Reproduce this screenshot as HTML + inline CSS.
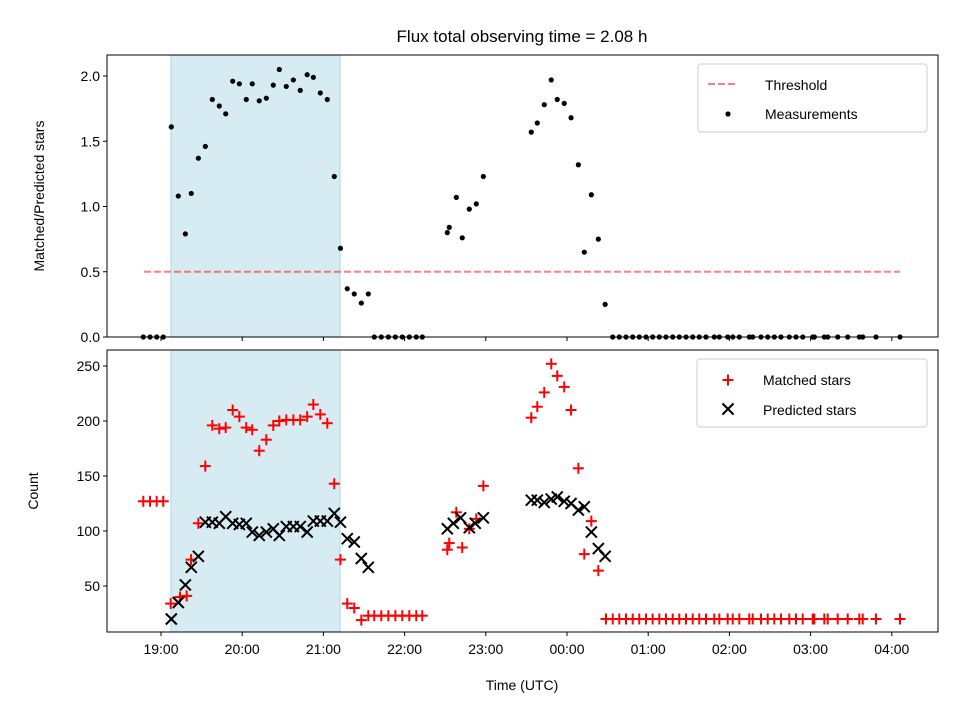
<!DOCTYPE html>
<html><head><meta charset="utf-8"><style>
body{margin:0;background:#fff}
svg text{font-family:"Liberation Sans","DejaVu Sans",sans-serif;fill:#000}
</style></head><body>
<svg id="c" width="960" height="720" xmlns="http://www.w3.org/2000/svg"></svg>
<script>
// hours after 19:00 UTC
const xTickLabels=["19:00","20:00","21:00","22:00","23:00","00:00","01:00","02:00","03:00","04:00"];
const xTickHours=[0,1,2,3,4,5,6,7,8,9];
const topTicks=[0,0.5,1.0,1.5,2.0];
const botTicks=[50,100,150,200,250];
const shadeRange=[0.123,2.205];
const threshold=0.5;
const thresholdRange=[-0.21,9.1];
const fluxT=[-0.218,-0.135,-0.053,0.028,0.127,0.213,0.30,0.373,0.46,0.546,0.632,0.718,0.797,0.883,0.965,1.05,1.124,1.21,1.297,1.383,1.457,1.543,1.63,1.715,1.80,1.876,1.962,2.048,2.134,2.21,2.294,2.38,2.467,2.553,2.627,2.713,2.8,2.886,2.972,3.058,3.144,3.218,3.526,3.55,3.637,3.71,3.797,3.883,3.97,4.56,4.634,4.72,4.806,4.88,4.966,5.05,5.14,5.213,5.30,5.386,5.47,5.563,5.644,5.727,5.809,5.89,5.973,6.055,6.137,6.219,6.302,6.383,6.466,6.548,6.629,6.712,6.814,6.876,6.979,7.041,7.122,7.245,7.287,7.389,7.472,7.553,7.635,7.738,7.82,7.903,8.026,8.046,8.169,8.211,8.334,8.457,8.6,8.642,8.806,9.101];
const fluxV=[0,0,0,0,1.61,1.08,0.79,1.10,1.37,1.46,1.82,1.77,1.71,1.96,1.94,1.82,1.94,1.81,1.83,1.93,2.05,1.92,1.97,1.89,2.01,1.99,1.87,1.82,1.23,0.68,0.37,0.33,0.26,0.33,0,0,0,0,0,0,0,0,0.80,0.84,1.07,0.76,0.98,1.02,1.23,1.57,1.64,1.78,1.97,1.82,1.79,1.68,1.32,0.65,1.09,0.75,0.25,0,0,0,0,0,0,0,0,0,0,0,0,0,0,0,0,0,0,0,0,0,0,0,0,0,0,0,0,0,0,0,0,0,0,0,0,0,0,0];
const matchedT=[-0.218,-0.135,-0.053,0.028,0.119,0.234,0.316,0.37,0.46,0.546,0.632,0.718,0.797,0.883,0.965,1.05,1.124,1.21,1.297,1.383,1.457,1.543,1.63,1.715,1.80,1.876,1.962,2.048,2.134,2.21,2.294,2.38,2.467,2.553,2.627,2.713,2.8,2.886,2.972,3.058,3.144,3.218,3.526,3.55,3.637,3.71,3.797,3.883,3.97,4.56,4.634,4.72,4.806,4.88,4.966,5.05,5.14,5.213,5.30,5.386,5.48,5.563,5.644,5.727,5.809,5.89,5.973,6.055,6.137,6.219,6.302,6.383,6.466,6.548,6.629,6.712,6.814,6.876,6.979,7.041,7.122,7.245,7.287,7.389,7.472,7.553,7.635,7.738,7.82,7.903,8.026,8.046,8.169,8.211,8.334,8.457,8.6,8.642,8.806,9.101];
const matchedV=[127,127,127,127,34,40,41,74,107,159,196,193,194,210,204,194,192,173,183,196,200,201,201,201,204,215,206,198,143,74,34,30,19,23,23,23,23,23,23,23,23,23,83,89,117,85,102,111,141,203,213,226,252,241,231,210,157,79,109,64,20,20,20,20,20,20,20,20,20,20,20,20,20,20,20,20,20,20,20,20,20,20,20,20,20,20,20,20,20,20,20,20,20,20,20,20,20,20,20,20];
const predT=[0.127,0.213,0.30,0.373,0.46,0.546,0.632,0.718,0.797,0.883,0.965,1.05,1.124,1.21,1.297,1.383,1.457,1.543,1.63,1.715,1.80,1.876,1.962,2.048,2.134,2.21,2.294,2.38,2.467,2.553,3.526,3.60,3.69,3.797,3.87,3.97,4.56,4.634,4.72,4.806,4.88,4.966,5.05,5.14,5.213,5.30,5.386,5.47];
const predV=[20,35,51,67,77,108,108,107,113,107,106,107,99,96,99,102,96,104,104,104,99,109,109,109,116,108,93,90,75,67,102,107,112,103,107,112,128,128,126,129,131,127,125,119,122,99,84,77];

const NS="http://www.w3.org/2000/svg";
const svg=document.getElementById('c');
function mk(tag,attrs,parent){const e=document.createElementNS(NS,tag);for(const k in attrs)e.setAttribute(k,attrs[k]);(parent||svg).appendChild(e);return e;}
const L=107,R=938;
const xs=t=>161+t*81.2;
const yTop=v=>337-v*130.5;
const yBot=v=>641-v*1.1;
const T1=55,B1=337,T2=350,B2=632;

const title=mk('text',{x:522,y:42,'text-anchor':'middle','font-size':17});
title.textContent='Flux total observing time = 2.08 h';



function panel(top,bot,name){
  const g=mk('g',{});
  
  
  const sh=mk('rect',{x:xs(shadeRange[0]),y:top,width:xs(shadeRange[1])-xs(shadeRange[0]),height:bot-top,fill:'#add8e6','fill-opacity':0.5,stroke:'#add8e6','stroke-width':1},g);
  
  
  return g;
}
function frame(g,top,bot){
  mk('rect',{x:L,y:top,width:R-L,height:bot-top,fill:'none',stroke:'#000','stroke-width':1},g);
}
// Top panel
const g1=panel(T1,B1,'top-panel');
const th=mk('line',{x1:xs(thresholdRange[0]),x2:xs(thresholdRange[1]),y1:yTop(threshold),y2:yTop(threshold),stroke:'#ff0000','stroke-opacity':0.5,'stroke-width':2,'stroke-dasharray':'7,3'},g1);


fluxT.forEach((t,i)=>{
  const c=mk('circle',{cx:xs(t),cy:yTop(fluxV[i]),r:2.6,fill:'#000'},g1);
  
  
});
frame(g1,T1,B1);
topTicks.forEach(v=>{
  const y=yTop(v);
  mk('line',{x1:L-4,x2:L,y1:y,y2:y,stroke:'#000'},g1);
  const t=mk('text',{x:L-7,y:y+5,'text-anchor':'end','font-size':14},g1);t.textContent=v.toFixed(1);
  
  
});
xTickHours.forEach(h=>{mk('line',{x1:xs(h),x2:xs(h),y1:B1,y2:B1+4,stroke:'#000'},g1);});
const yt1=mk('text',{x:0,y:0,'text-anchor':'middle','font-size':14,transform:'translate(44,196) rotate(-90)'});
yt1.textContent='Matched/Predicted stars';



// Bottom panel
const g2=panel(T2,B2,'bottom-panel');
function plus(x,y,p,c){const g=mk('g',{},p);mk('line',{x1:x-5.5,x2:x+5.5,y1:y,y2:y,stroke:c||'#ff0000','stroke-width':2},g);mk('line',{x1:x,x2:x,y1:y-5.5,y2:y+5.5,stroke:c||'#ff0000','stroke-width':2},g);return g;}
function cross(x,y,p){const g=mk('g',{},p);mk('line',{x1:x-5.5,x2:x+5.5,y1:y-5.5,y2:y+5.5,stroke:'#000','stroke-width':2},g);mk('line',{x1:x-5.5,x2:x+5.5,y1:y+5.5,y2:y-5.5,stroke:'#000','stroke-width':2},g);return g;}
matchedT.forEach((t,i)=>{
  const m=plus(xs(t),yBot(matchedV[i]),g2);
  
  
});
predT.forEach((t,i)=>{
  const m=cross(xs(t),yBot(predV[i]),g2);
  
  
});
frame(g2,T2,B2);
botTicks.forEach(v=>{
  const y=yBot(v);
  mk('line',{x1:L-4,x2:L,y1:y,y2:y,stroke:'#000'},g2);
  const t=mk('text',{x:L-7,y:y+5,'text-anchor':'end','font-size':14},g2);t.textContent=v;
  
  
});
xTickHours.forEach((h,i)=>{
  mk('line',{x1:xs(h),x2:xs(h),y1:B2,y2:B2+4,stroke:'#000'},g2);
  const t=mk('text',{x:xs(h),y:B2+22,'text-anchor':'middle','font-size':14},g2);t.textContent=xTickLabels[i];
  
  
});
const yt2=mk('text',{x:0,y:0,'text-anchor':'middle','font-size':14,transform:'translate(38,491) rotate(-90)'});
yt2.textContent='Count';


const xt=mk('text',{x:522,y:690,'text-anchor':'middle','font-size':14});
xt.textContent='Time (UTC)';



// Legends
function legendBox(x,y,w,h,name){const g=mk('g',{});
  mk('rect',{x:x,y:y,width:w,height:h,rx:3,fill:'#fff','fill-opacity':0.8,stroke:'#ccc'},g);return g;}
const lg1=legendBox(698,64,229,68,'top-legend');
mk('line',{x1:708,x2:736,y1:84,y2:84,stroke:'#ff0000','stroke-opacity':0.5,'stroke-width':2,'stroke-dasharray':'7,3'},lg1);
let t1=mk('text',{x:765,y:90,'font-size':14},lg1);t1.textContent='Threshold';
mk('circle',{cx:728,cy:114,r:2.6,fill:'#000'},lg1);
let t2=mk('text',{x:765,y:119,'font-size':14},lg1);t2.textContent='Measurements';
const lg2=legendBox(697,359,230,68,'bottom-legend');
plus(728,380,lg2);
let t3=mk('text',{x:763,y:385,'font-size':14},lg2);t3.textContent='Matched stars';
cross(728,409,lg2);
let t4=mk('text',{x:763,y:415,'font-size':14},lg2);t4.textContent='Predicted stars';
</script>
</body></html>
